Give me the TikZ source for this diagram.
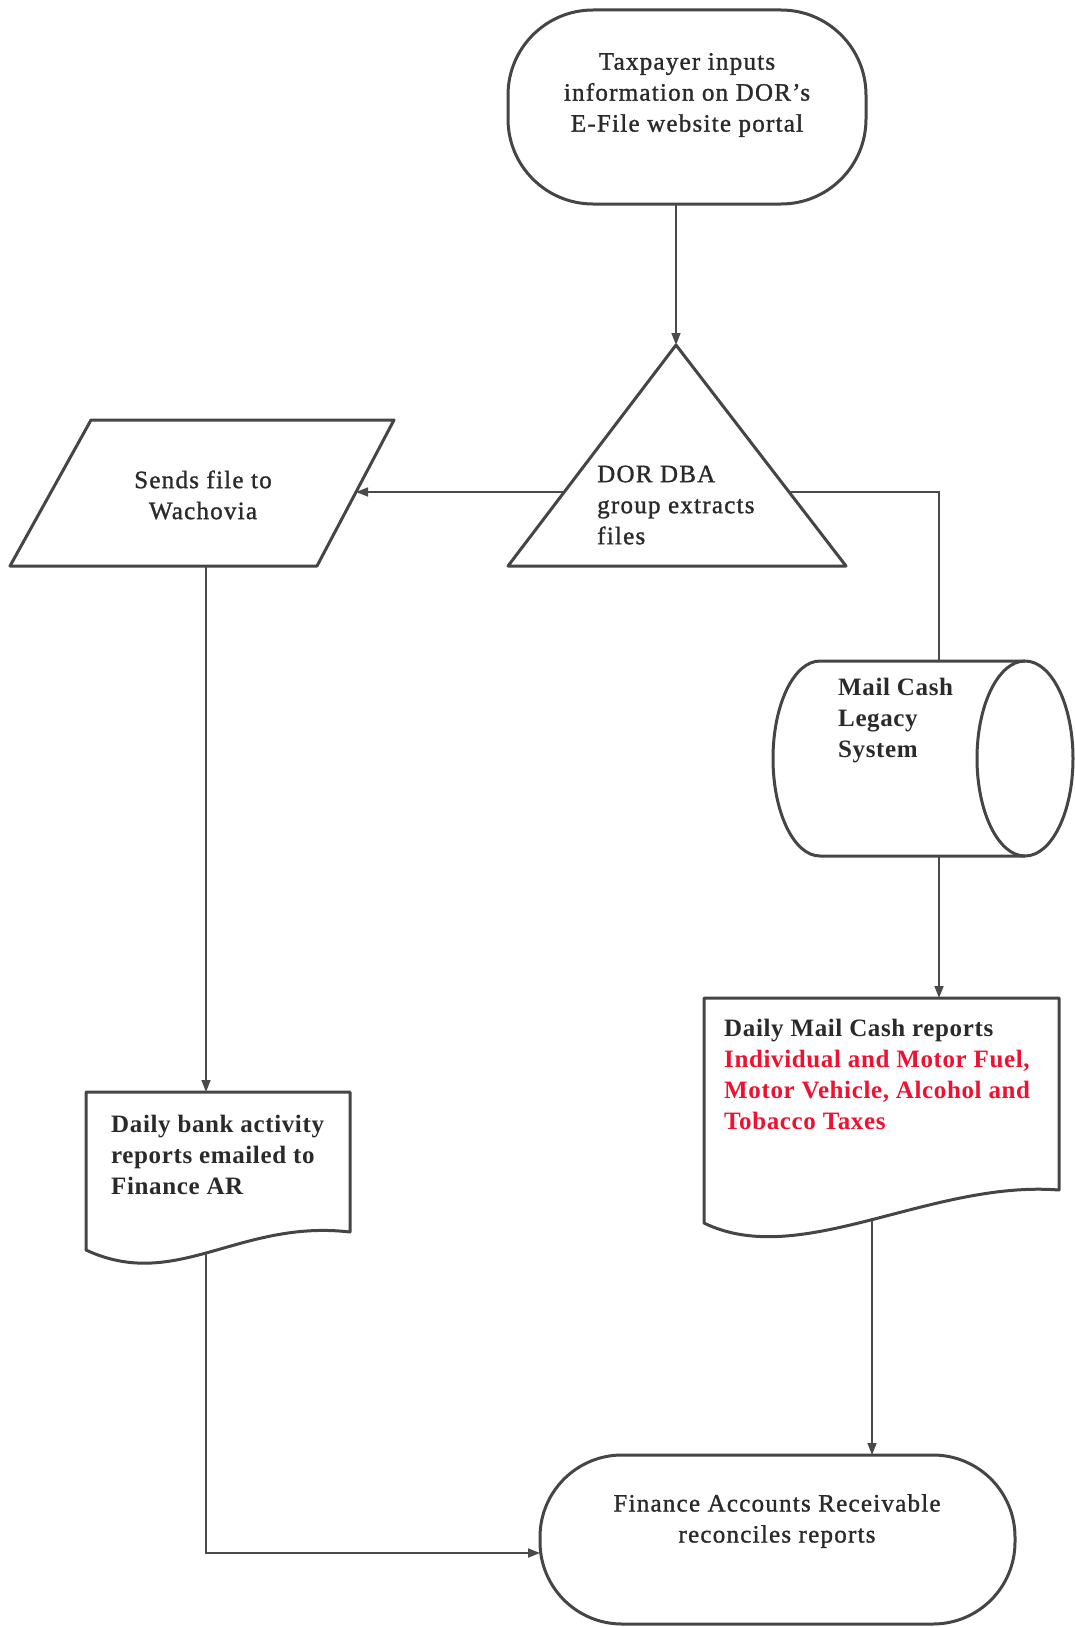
\documentclass[tikz,border=0pt]{standalone}
\usepackage{fontspec}
\setmainfont{Liberation Serif}
\newfontfamily\lightserif[LetterSpace=5,FakeBold=1.2]{Liberation Serif}
\newfontfamily\heavyserif[LetterSpace=2.5]{Liberation Serif}
\usetikzlibrary{arrows.meta}
\definecolor{ink}{HTML}{2A2A2A}
\definecolor{edgec}{HTML}{454545}
\definecolor{wirec}{HTML}{4A4A4A}
\definecolor{redtext}{RGB}{240,16,48}
\begin{document}
\begin{tikzpicture}[x=1pt,y=1pt,yscale=-1,
  shapeline/.style={draw=edgec, line width=3pt, line join=round},
  wire/.style={draw=wirec, line width=1.6pt},
  arrowwire/.style={wire, -{Triangle[length=12pt,width=9pt]}},
  lbl/.style={inner sep=0pt, text=ink, font=\lightserif\fontsize{25}{31}\selectfont, align=center},
  boldlbl/.style={inner sep=0pt, text=ink, font=\heavyserif\bfseries\fontsize{25}{31}\selectfont, align=left}]
\useasboundingbox[fill=white] (0,0) rectangle (1074,1627);

% shapes
\draw[shapeline, rounded corners=85pt] (508,10) rectangle (866,204);
\draw[shapeline] (676,345) -- (846,566) -- (508,566) -- cycle;
\draw[shapeline] (91,420) -- (394,420) -- (317,566) -- (10,566) -- cycle;
\draw[shapeline] (1025,661) -- (820,661)
  .. controls (794,661) and (773,704.6) .. (773,758.5)
  .. controls (773,812.4) and (794,856) .. (820,856) -- (1025,856);
\draw[shapeline] (1025,758.5) ellipse[x radius=48, y radius=97.5];
\draw[shapeline] (350,1232) -- (350,1092) -- (86,1092) -- (86,1250)
  .. controls (176,1292) and (239,1219) .. (350,1232) -- cycle;
\draw[shapeline] (1059,1190) -- (1059,998) -- (704,998) -- (704,1223)
  .. controls (800,1270) and (930,1180) .. (1059,1190) -- cycle;
\draw[shapeline, rounded corners=82pt] (540,1455) rectangle (1015,1624);

% texts
\node[lbl] (start) at (687,95) {Taxpayer inputs\\information on DOR’s\\E-File website portal};
\node[lbl, align=left, anchor=west] (extract) at (597,505) {DOR DBA\\group extracts\\files};
\node[lbl] (send) at (203,495) {Sends file to\\Wachovia};
\node[boldlbl, anchor=west] (legacy) at (838,721) {Mail Cash\\Legacy\\System};
\node[boldlbl, anchor=west] (mailrep) at (724,1074) {Daily Mail Cash reports\\\textcolor{redtext}{Individual and Motor Fuel,}\\\textcolor{redtext}{Motor Vehicle, Alcohol and}\\\textcolor{redtext}{Tobacco Taxes}};
\node[boldlbl, anchor=west] (bankrep) at (111,1155) {Daily bank activity\\reports emailed to\\Finance AR};
\node[lbl] (recon) at (777,1521) {Finance Accounts Receivable\\reconciles reports};

% connection points
\coordinate (startB) at (676,204);
\coordinate (triApex) at (676,345);
\coordinate (triL) at (564,492);
\coordinate (triR) at (789,492);
\coordinate (paraR) at (356,492);
\coordinate (paraB) at (206,566);
\coordinate (bankT) at (206,1092);
\coordinate (bankB) at (206,1252);
\coordinate (bend) at (206,1553);
\coordinate (reconL) at (540,1553);
\coordinate (turn) at (939,492);
\coordinate (cylT) at (939,661);
\coordinate (cylB) at (939,856);
\coordinate (mailT) at (939,998);
\coordinate (mailB) at (872,1220);
\coordinate (reconT) at (872,1455);

% connectors
\draw[arrowwire] (startB) -- (triApex);
\draw[arrowwire] (triL) -- (paraR);
\draw[wire] (triR) -- (turn) -- (cylT);
\draw[arrowwire] (cylB) -- (mailT);
\draw[arrowwire] (paraB) -- (bankT);
\draw[arrowwire] (bankB) -- (bend) -- (reconL);
\draw[arrowwire] (mailB) -- (reconT);
\end{tikzpicture}
\end{document}
